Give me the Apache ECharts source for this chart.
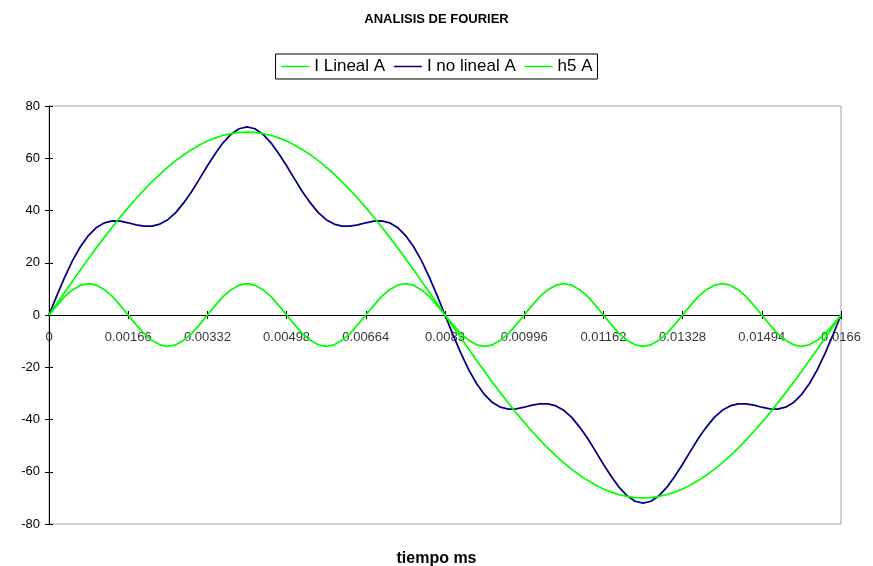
<!DOCTYPE html>
<html>
<head>
<meta charset="utf-8">
<script src="https://cdn.jsdelivr.net/npm/echarts@6/dist/echarts.min.js"></script>
<style>html,body{margin:0;padding:0;background:#fff}#c{width:873px;height:566px}</style>
</head>
<body>
<div id="c"></div>
<script>
const categories = ["0","0.000166","0.000332","0.000498","0.000664","0.00083","0.000996","0.001162","0.001328","0.001494",
"0.00166","0.001826","0.001992","0.002158","0.002324","0.00249","0.002656","0.002822","0.002988","0.003154",
"0.00332","0.003486","0.003652","0.003818","0.003984","0.00415","0.004316","0.004482","0.004648","0.004814",
"0.00498","0.005146","0.005312","0.005478","0.005644","0.00581","0.005976","0.006142","0.006308","0.006474",
"0.00664","0.006806","0.006972","0.007138","0.007304","0.00747","0.007636","0.007802","0.007968","0.008134",
"0.0083","0.008466","0.008632","0.008798","0.008964","0.00913","0.009296","0.009462","0.009628","0.009794",
"0.00996","0.010126","0.010292","0.010458","0.010624","0.01079","0.010956","0.011122","0.011288","0.011454",
"0.01162","0.011786","0.011952","0.012118","0.012284","0.01245","0.012616","0.012782","0.012948","0.013114",
"0.01328","0.013446","0.013612","0.013778","0.013944","0.01411","0.014276","0.014442","0.014608","0.014774",
"0.01494","0.015106","0.015272","0.015438","0.015604","0.01577","0.015936","0.016102","0.016268","0.016434",
"0.0166"];

const xTickLabels = ["0","0.00166","0.00332","0.00498","0.00664","0.0083","0.00996","0.01162","0.01328","0.01494","0.0166"];

const iLineal = [0,4.4,8.8,13.1,17.4,21.6,25.8,29.8,33.7,37.5,
41.1,44.6,47.9,51.0,53.9,56.6,59.1,61.3,63.3,65.1,
66.6,67.8,68.8,69.4,69.9,70,69.9,69.4,68.8,67.8,
66.6,65.1,63.3,61.3,59.1,56.6,53.9,51.0,47.9,44.6,
41.1,37.5,33.7,29.8,25.8,21.6,17.4,13.1,8.8,4.4,
0,-4.4,-8.8,-13.1,-17.4,-21.6,-25.8,-29.8,-33.7,-37.5,
-41.1,-44.6,-47.9,-51.0,-53.9,-56.6,-59.1,-61.3,-63.3,-65.1,
-66.6,-67.8,-68.8,-69.4,-69.9,-70,-69.9,-69.4,-68.8,-67.8,
-66.6,-65.1,-63.3,-61.3,-59.1,-56.6,-53.9,-51.0,-47.9,-44.6,
-41.1,-37.5,-33.7,-29.8,-25.8,-21.6,-17.4,-13.1,-8.8,-4.4,
0];

const iNoLineal = [0,7.5,14.6,21.0,26.3,30.5,33.5,35.3,36.0,35.9,
35.3,34.5,34.0,34.0,34.8,36.5,39.2,42.9,47.2,52.1,
57.1,61.8,66.0,69.2,71.3,72,71.3,69.2,66.0,61.8,
57.1,52.1,47.2,42.9,39.2,36.5,34.8,34.0,34.0,34.5,
35.3,35.9,36.0,35.3,33.5,30.5,26.3,21.0,14.6,7.5,
0,-7.5,-14.6,-21.0,-26.3,-30.5,-33.5,-35.3,-36.0,-35.9,
-35.3,-34.5,-34.0,-34.0,-34.8,-36.5,-39.2,-42.9,-47.2,-52.1,
-57.1,-61.8,-66.0,-69.2,-71.3,-72,-71.3,-69.2,-66.0,-61.8,
-57.1,-52.1,-47.2,-42.9,-39.2,-36.5,-34.8,-34.0,-34.0,-34.5,
-35.3,-35.9,-36.0,-35.3,-33.5,-30.5,-26.3,-21.0,-14.6,-7.5,
0];

const h5 = [0,3.7,7.1,9.7,11.4,12,11.4,9.7,7.1,3.7,
0,-3.7,-7.1,-9.7,-11.4,-12,-11.4,-9.7,-7.1,-3.7,
0,3.7,7.1,9.7,11.4,12,11.4,9.7,7.1,3.7,
0,-3.7,-7.1,-9.7,-11.4,-12,-11.4,-9.7,-7.1,-3.7,
0,3.7,7.1,9.7,11.4,12,11.4,9.7,7.1,3.7,
0,-3.7,-7.1,-9.7,-11.4,-12,-11.4,-9.7,-7.1,-3.7,
0,3.7,7.1,9.7,11.4,12,11.4,9.7,7.1,3.7,
0,-3.7,-7.1,-9.7,-11.4,-12,-11.4,-9.7,-7.1,-3.7,
0,3.7,7.1,9.7,11.4,12,11.4,9.7,7.1,3.7,
0,-3.7,-7.1,-9.7,-11.4,-12,-11.4,-9.7,-7.1,-3.7,
0];

const seriesNames = ["I Lineal A", "I no lineal A", "h5 A"];
const FONT = "'Liberation Sans', Arial, sans-serif";

const chart = echarts.init(document.getElementById('c'), null, {renderer: 'canvas'});
const yBase = {type: 'value', min: -80, max: 80, interval: 20, position: 'left', splitLine: {show: false}};
const xBase = {type: 'category', data: categories, boundaryGap: false};
chart.setOption({
  animation: false,
  backgroundColor: '#ffffff',
  textStyle: {fontFamily: FONT},
  title: [
    {text: 'ANALISIS DE FOURIER', left: 'center', top: 8,
     textStyle: {fontFamily: FONT, fontSize: 13, fontWeight: 'bold', color: '#000'}},
    {text: 'tiempo ms', left: 'center', top: 546,
     textStyle: {fontFamily: FONT, fontSize: 16, fontWeight: 'bold', color: '#000'}}
  ],
  legend: {
    data: seriesNames, left: 'center', top: 54,
    borderColor: '#000', borderWidth: 1, padding: [4, 5],
    itemWidth: 28, itemHeight: 14, itemGap: 8,
    itemStyle: {opacity: 0},
    lineStyle: {width: 1.5},
    textStyle: {fontFamily: FONT, fontSize: 17, color: '#000'}
  },
  grid: {left: 49, right: 32, top: 106, bottom: 42, show: true, borderColor: '#a0a0a0', borderWidth: 1, containLabel: false},
  xAxis: [
    Object.assign({}, xBase, {
      position: 'bottom',
      axisLine: {onZero: true, onZeroAxisIndex: 0, lineStyle: {color: '#000', width: 1}},
      axisTick: {show: true, interval: 9, length: 4, inside: false, lineStyle: {color: '#000'}},
      axisLabel: {show: false}
    }),
    Object.assign({}, xBase, {
      position: 'top',
      axisLine: {onZero: true, onZeroAxisIndex: 0, show: false},
      axisTick: {show: true, interval: 9, length: 4, inside: false, lineStyle: {color: '#000'}},
      axisLabel: {show: false}
    })
  ],
  yAxis: [
    Object.assign({}, yBase, {
      axisLine: {show: true, onZero: false, lineStyle: {color: '#000', width: 1}},
      axisTick: {show: true, length: 4, inside: false, lineStyle: {color: '#000'}},
      axisLabel: {margin: 9, fontFamily: FONT, fontSize: 13, color: '#000'}
    }),
    Object.assign({}, yBase, {
      axisLine: {show: false, onZero: false},
      axisTick: {show: true, length: 4, inside: true, lineStyle: {color: '#000'}},
      axisLabel: {show: false}
    })
  ],
  series: [
    {name: 'xlabels', type: 'scatter', silent: true, z: 0,
     data: xTickLabels.map(function (t) { return [t, 0]; }),
     symbolSize: 1, itemStyle: {color: 'rgba(0,0,0,0)'},
     label: {show: true, position: 'bottom', distance: 15, fontFamily: FONT, fontSize: 13, color: '#000',
       formatter: function (p) { return p.value[0]; }}},
    {name: seriesNames[0], type: 'line', data: iLineal, symbol: 'none', showSymbol: false,
     lineStyle: {color: '#00ff00', width: 1.75}, itemStyle: {color: '#00ff00'}, z: 3},
    {name: seriesNames[1], type: 'line', data: iNoLineal, symbol: 'none', showSymbol: false,
     lineStyle: {color: '#000080', width: 1.75}, itemStyle: {color: '#000080'}, z: 2},
    {name: seriesNames[2], type: 'line', data: h5, symbol: 'none', showSymbol: false,
     lineStyle: {color: '#00ff00', width: 1.75}, itemStyle: {color: '#00ff00'}, z: 3}
  ]
});
</script>
</body>
</html>
